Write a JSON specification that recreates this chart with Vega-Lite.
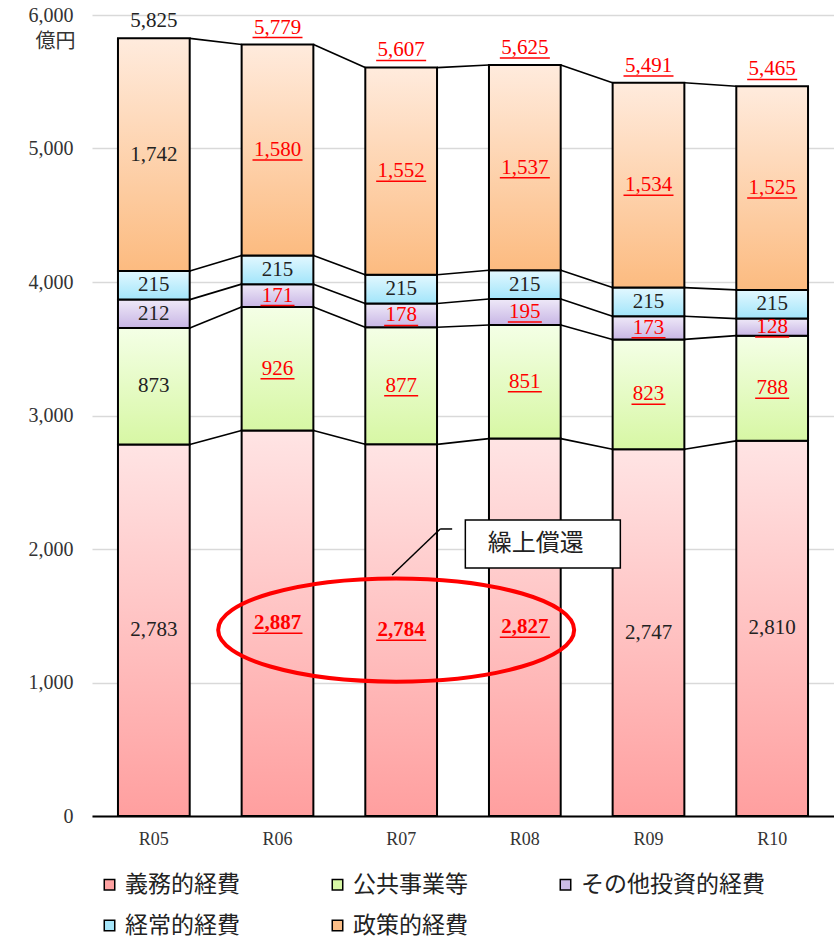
{
  "$schema": "https://vega.github.io/schema/vega-lite/v6.json",
  "autosize": {"type": "none"},
  "padding": {"left": 92, "top": 15, "right": 0, "bottom": 122},
  "width": 742,
  "height": 801,
  "background": "white",
  "config": {
    "view": {"stroke": null},
    "scale": {"bandPaddingInner": 0.42, "bandPaddingOuter": 0.21},
    "axisX": {
      "domain": true, "domainColor": "#000000", "domainWidth": 2,
      "ticks": false, "grid": false, "labelAngle": 0, "labelPadding": 14,
      "labelFont": "Liberation Serif", "labelFontSize": 18, "labelColor": "#333333"
    },
    "axisY": {
      "domain": false, "ticks": false, "grid": true, "gridColor": "#d9d9d9", "gridWidth": 1.5,
      "labelFont": "Liberation Serif", "labelFontSize": 20, "labelColor": "#333333", "labelPadding": 19,
      "titleFont": "Noto Sans CJK JP", "titleFontSize": 20, "titleFontWeight": "normal", "titleColor": "#333333",
      "titleAngle": 0, "titleAlign": "right", "titleBaseline": "middle", "titleX": -17, "titleY": 26
    },
    "legend": {
      "symbolType": "square", "symbolSize": 110, "symbolStrokeColor": "#000000", "symbolStrokeWidth": 1.5,
      "labelFont": "Noto Sans CJK JP", "labelFontSize": 23, "labelColor": "#222222", "labelLimit": 400,
      "labelOffset": 4, "columnPadding": 86, "rowPadding": 17
    }
  },
  "datasets": {
    "costs": [
      {"year": "R05", "series": "義務的経費", "order": 1, "value": 2783, "revised": false, "early": false},
      {"year": "R05", "series": "公共事業等", "order": 2, "value": 873, "revised": false, "early": false},
      {"year": "R05", "series": "その他投資的経費", "order": 3, "value": 212, "revised": false, "early": false},
      {"year": "R05", "series": "経常的経費", "order": 4, "value": 215, "revised": false, "early": false},
      {"year": "R05", "series": "政策的経費", "order": 5, "value": 1742, "revised": false, "early": false},
      {"year": "R06", "series": "義務的経費", "order": 1, "value": 2887, "revised": true, "early": true},
      {"year": "R06", "series": "公共事業等", "order": 2, "value": 926, "revised": true, "early": false},
      {"year": "R06", "series": "その他投資的経費", "order": 3, "value": 171, "revised": true, "early": false},
      {"year": "R06", "series": "経常的経費", "order": 4, "value": 215, "revised": false, "early": false},
      {"year": "R06", "series": "政策的経費", "order": 5, "value": 1580, "revised": true, "early": false},
      {"year": "R07", "series": "義務的経費", "order": 1, "value": 2784, "revised": true, "early": true},
      {"year": "R07", "series": "公共事業等", "order": 2, "value": 877, "revised": true, "early": false},
      {"year": "R07", "series": "その他投資的経費", "order": 3, "value": 178, "revised": true, "early": false},
      {"year": "R07", "series": "経常的経費", "order": 4, "value": 215, "revised": false, "early": false},
      {"year": "R07", "series": "政策的経費", "order": 5, "value": 1552, "revised": true, "early": false},
      {"year": "R08", "series": "義務的経費", "order": 1, "value": 2827, "revised": true, "early": true},
      {"year": "R08", "series": "公共事業等", "order": 2, "value": 851, "revised": true, "early": false},
      {"year": "R08", "series": "その他投資的経費", "order": 3, "value": 195, "revised": true, "early": false},
      {"year": "R08", "series": "経常的経費", "order": 4, "value": 215, "revised": false, "early": false},
      {"year": "R08", "series": "政策的経費", "order": 5, "value": 1537, "revised": true, "early": false},
      {"year": "R09", "series": "義務的経費", "order": 1, "value": 2747, "revised": false, "early": false},
      {"year": "R09", "series": "公共事業等", "order": 2, "value": 823, "revised": true, "early": false},
      {"year": "R09", "series": "その他投資的経費", "order": 3, "value": 173, "revised": true, "early": false},
      {"year": "R09", "series": "経常的経費", "order": 4, "value": 215, "revised": false, "early": false},
      {"year": "R09", "series": "政策的経費", "order": 5, "value": 1534, "revised": true, "early": false},
      {"year": "R10", "series": "義務的経費", "order": 1, "value": 2810, "revised": false, "early": false},
      {"year": "R10", "series": "公共事業等", "order": 2, "value": 788, "revised": true, "early": false},
      {"year": "R10", "series": "その他投資的経費", "order": 3, "value": 128, "revised": true, "early": false},
      {"year": "R10", "series": "経常的経費", "order": 4, "value": 215, "revised": false, "early": false},
      {"year": "R10", "series": "政策的経費", "order": 5, "value": 1525, "revised": true, "early": false}
    ],
    "totals": [
      {"year": "R05", "total": 5825, "revised": false},
      {"year": "R06", "total": 5779, "revised": true},
      {"year": "R07", "total": 5607, "revised": true},
      {"year": "R08", "total": 5625, "revised": true},
      {"year": "R09", "total": 5491, "revised": true},
      {"year": "R10", "total": 5465, "revised": true}
    ]
  },
  "layer": [
    {
      "data": {"name": "costs"},
      "transform": [
        {"stack": "value", "groupby": ["year"], "sort": [{"field": "order", "order": "ascending"}], "as": ["y0", "y1"]},
        {"calculate": "(datum.y0 + datum.y1) / 2", "as": "ymid"}
      ],
      "layer": [
        {
          "mark": {"type": "bar"},
          "encoding": {
            "x": {"field": "year", "type": "nominal", "title": null, "scale": {"type": "band"}},
            "y": {"field": "y1", "type": "quantitative", "title": "億円", "scale": {"domain": [0, 6000], "nice": false}, "axis": {"values": [0, 1000, 2000, 3000, 4000, 5000, 6000], "format": ",d"}},
            "y2": {"field": "y0"},
            "color": {
              "field": "series", "type": "nominal",
              "scale": {
                "domain": ["義務的経費", "公共事業等", "その他投資的経費", "経常的経費", "政策的経費"],
                "range": ["#ffa3a3", "#d8f8a6", "#cbbbe6", "#a6e6fa", "#fcbf88"]
              },
              "legend": {"title": null, "orient": "none", "legendX": 6, "legendY": 858, "columns": 3, "direction": "horizontal"}
            }
          }
        },
        {
          "transform": [{"filter": "datum.series === '義務的経費'"}],
          "mark": {"type": "bar", "stroke": "#000000", "strokeWidth": 2,
            "fill": {"gradient": "linear", "x1": 0, "y1": 0, "x2": 0, "y2": 1, "stops": [{"offset": 0, "color": "#ffe4e4"}, {"offset": 1, "color": "#ff9f9f"}]}},
          "encoding": {"x": {"field": "year", "type": "nominal"}, "y": {"field": "y1", "type": "quantitative"}, "y2": {"field": "y0"}}
        },
        {
          "transform": [{"filter": "datum.series === '公共事業等'"}],
          "mark": {"type": "bar", "stroke": "#000000", "strokeWidth": 2,
            "fill": {"gradient": "linear", "x1": 0, "y1": 0, "x2": 0, "y2": 1, "stops": [{"offset": 0, "color": "#f4ffe6"}, {"offset": 1, "color": "#d7f7a4"}]}},
          "encoding": {"x": {"field": "year", "type": "nominal"}, "y": {"field": "y1", "type": "quantitative"}, "y2": {"field": "y0"}}
        },
        {
          "transform": [{"filter": "datum.series === 'その他投資的経費'"}],
          "mark": {"type": "bar", "stroke": "#000000", "strokeWidth": 2,
            "fill": {"gradient": "linear", "x1": 0, "y1": 0, "x2": 0, "y2": 1, "stops": [{"offset": 0, "color": "#efe9f8"}, {"offset": 1, "color": "#c8b6e5"}]}},
          "encoding": {"x": {"field": "year", "type": "nominal"}, "y": {"field": "y1", "type": "quantitative"}, "y2": {"field": "y0"}}
        },
        {
          "transform": [{"filter": "datum.series === '経常的経費'"}],
          "mark": {"type": "bar", "stroke": "#000000", "strokeWidth": 2,
            "fill": {"gradient": "linear", "x1": 0, "y1": 0, "x2": 0, "y2": 1, "stops": [{"offset": 0, "color": "#e3f8ff"}, {"offset": 1, "color": "#a2e5fa"}]}},
          "encoding": {"x": {"field": "year", "type": "nominal"}, "y": {"field": "y1", "type": "quantitative"}, "y2": {"field": "y0"}}
        },
        {
          "transform": [{"filter": "datum.series === '政策的経費'"}],
          "mark": {"type": "bar", "stroke": "#000000", "strokeWidth": 2,
            "fill": {"gradient": "linear", "x1": 0, "y1": 0, "x2": 0, "y2": 1, "stops": [{"offset": 0, "color": "#ffebdd"}, {"offset": 1, "color": "#fcbb80"}]}},
          "encoding": {"x": {"field": "year", "type": "nominal"}, "y": {"field": "y1", "type": "quantitative"}, "y2": {"field": "y0"}}
        },
        {
          "transform": [
            {"window": [{"op": "lead", "field": "y1", "as": "ny1"}, {"op": "lead", "field": "year", "as": "nyear"}], "groupby": ["series"], "sort": [{"field": "year", "order": "ascending"}]},
            {"filter": "datum.nyear != null"}
          ],
          "mark": {"type": "rule", "color": "#000000", "strokeWidth": 1.6, "xOffset": 36, "x2Offset": -36},
          "encoding": {
            "x": {"field": "year", "type": "nominal"},
            "x2": {"field": "nyear"},
            "y": {"field": "y1", "type": "quantitative"},
            "y2": {"field": "ny1"}
          }
        },
        {
          "transform": [{"filter": "!datum.early"}],
          "mark": {"type": "text", "font": "Liberation Serif", "fontSize": 21, "baseline": "middle", "align": "center"},
          "encoding": {
            "x": {"field": "year", "type": "nominal"},
            "y": {"field": "ymid", "type": "quantitative"},
            "text": {"field": "value", "type": "quantitative", "format": ","},
            "color": {"condition": {"test": "datum.revised", "value": "#ff0000"}, "value": "#222222"}
          }
        },
        {
          "transform": [{"filter": "datum.early"}],
          "mark": {"type": "text", "font": "Liberation Serif", "fontSize": 21, "fontWeight": "bold", "baseline": "middle", "align": "center", "color": "#ff0000"},
          "encoding": {
            "x": {"field": "year", "type": "nominal"},
            "y": {"field": "ymid", "type": "quantitative"},
            "text": {"field": "value", "type": "quantitative", "format": ","}
          }
        },
        {
          "transform": [{"filter": "datum.revised && datum.value < 1000"}],
          "mark": {"type": "tick", "color": "#ff0000", "thickness": 1.5, "size": 34, "yOffset": 10, "opacity": 1},
          "encoding": {"x": {"field": "year", "type": "nominal"}, "y": {"field": "ymid", "type": "quantitative"}}
        },
        {
          "transform": [{"filter": "datum.revised && datum.value >= 1000"}],
          "mark": {"type": "tick", "color": "#ff0000", "thickness": 1.5, "size": 50, "yOffset": 10, "opacity": 1},
          "encoding": {"x": {"field": "year", "type": "nominal"}, "y": {"field": "ymid", "type": "quantitative"}}
        }
      ]
    },
    {
      "data": {"name": "totals"},
      "layer": [
        {
          "mark": {"type": "text", "font": "Liberation Serif", "fontSize": 21, "baseline": "middle", "align": "center", "dy": -17},
          "encoding": {
            "x": {"field": "year", "type": "nominal"},
            "y": {"field": "total", "type": "quantitative"},
            "text": {"field": "total", "type": "quantitative", "format": ","},
            "color": {"condition": {"test": "datum.revised", "value": "#ff0000"}, "value": "#222222"}
          }
        },
        {
          "transform": [{"filter": "datum.revised"}],
          "mark": {"type": "tick", "color": "#ff0000", "thickness": 1.5, "size": 50, "yOffset": -7, "opacity": 1},
          "encoding": {"x": {"field": "year", "type": "nominal"}, "y": {"field": "total", "type": "quantitative"}}
        }
      ]
    },
    {
      "data": {"values": [{"year": "R07", "value": 1393}]},
      "mark": {"type": "point", "shape": "M-1,0A1,0.29,0,1,1,1,0A1,0.29,0,1,1,-1,0Z", "size": 126736, "filled": false, "stroke": "#ff0000", "strokeWidth": 4, "opacity": 1, "xOffset": -5},
      "encoding": {"x": {"field": "year", "type": "nominal"}, "y": {"field": "value", "type": "quantitative"}}
    },
    {
      "data": {"values": [{"year": "R07", "from": 1805, "to": 2150}]},
      "layer": [
        {
          "mark": {"type": "rule", "color": "#000000", "strokeWidth": 1.5, "xOffset": -9, "x2Offset": 39},
          "encoding": {"x": {"field": "year", "type": "nominal"}, "x2": {"field": "year"}, "y": {"field": "from", "type": "quantitative"}, "y2": {"field": "to"}}
        },
        {
          "mark": {"type": "rule", "color": "#000000", "strokeWidth": 1.5, "xOffset": 39, "x2Offset": 51},
          "encoding": {"x": {"field": "year", "type": "nominal"}, "x2": {"field": "year"}, "y": {"field": "to", "type": "quantitative"}}
        }
      ]
    },
    {
      "data": {"values": [{"year": "R08", "value": 2037, "note": "繰上償還"}]},
      "layer": [
        {
          "mark": {"type": "point", "shape": "M-1,-0.31H1V0.31H-1Z", "size": 24025, "filled": true, "fill": "#ffffff", "stroke": "#000000", "strokeWidth": 1.5, "opacity": 1, "xOffset": 18},
          "encoding": {"x": {"field": "year", "type": "nominal"}, "y": {"field": "value", "type": "quantitative"}}
        },
        {
          "mark": {"type": "text", "font": "Noto Sans CJK JP", "fontSize": 24, "color": "#222222", "baseline": "middle", "align": "center", "xOffset": 11},
          "encoding": {"x": {"field": "year", "type": "nominal"}, "y": {"field": "value", "type": "quantitative"}, "text": {"field": "note"}}
        }
      ]
    }
  ]
}
